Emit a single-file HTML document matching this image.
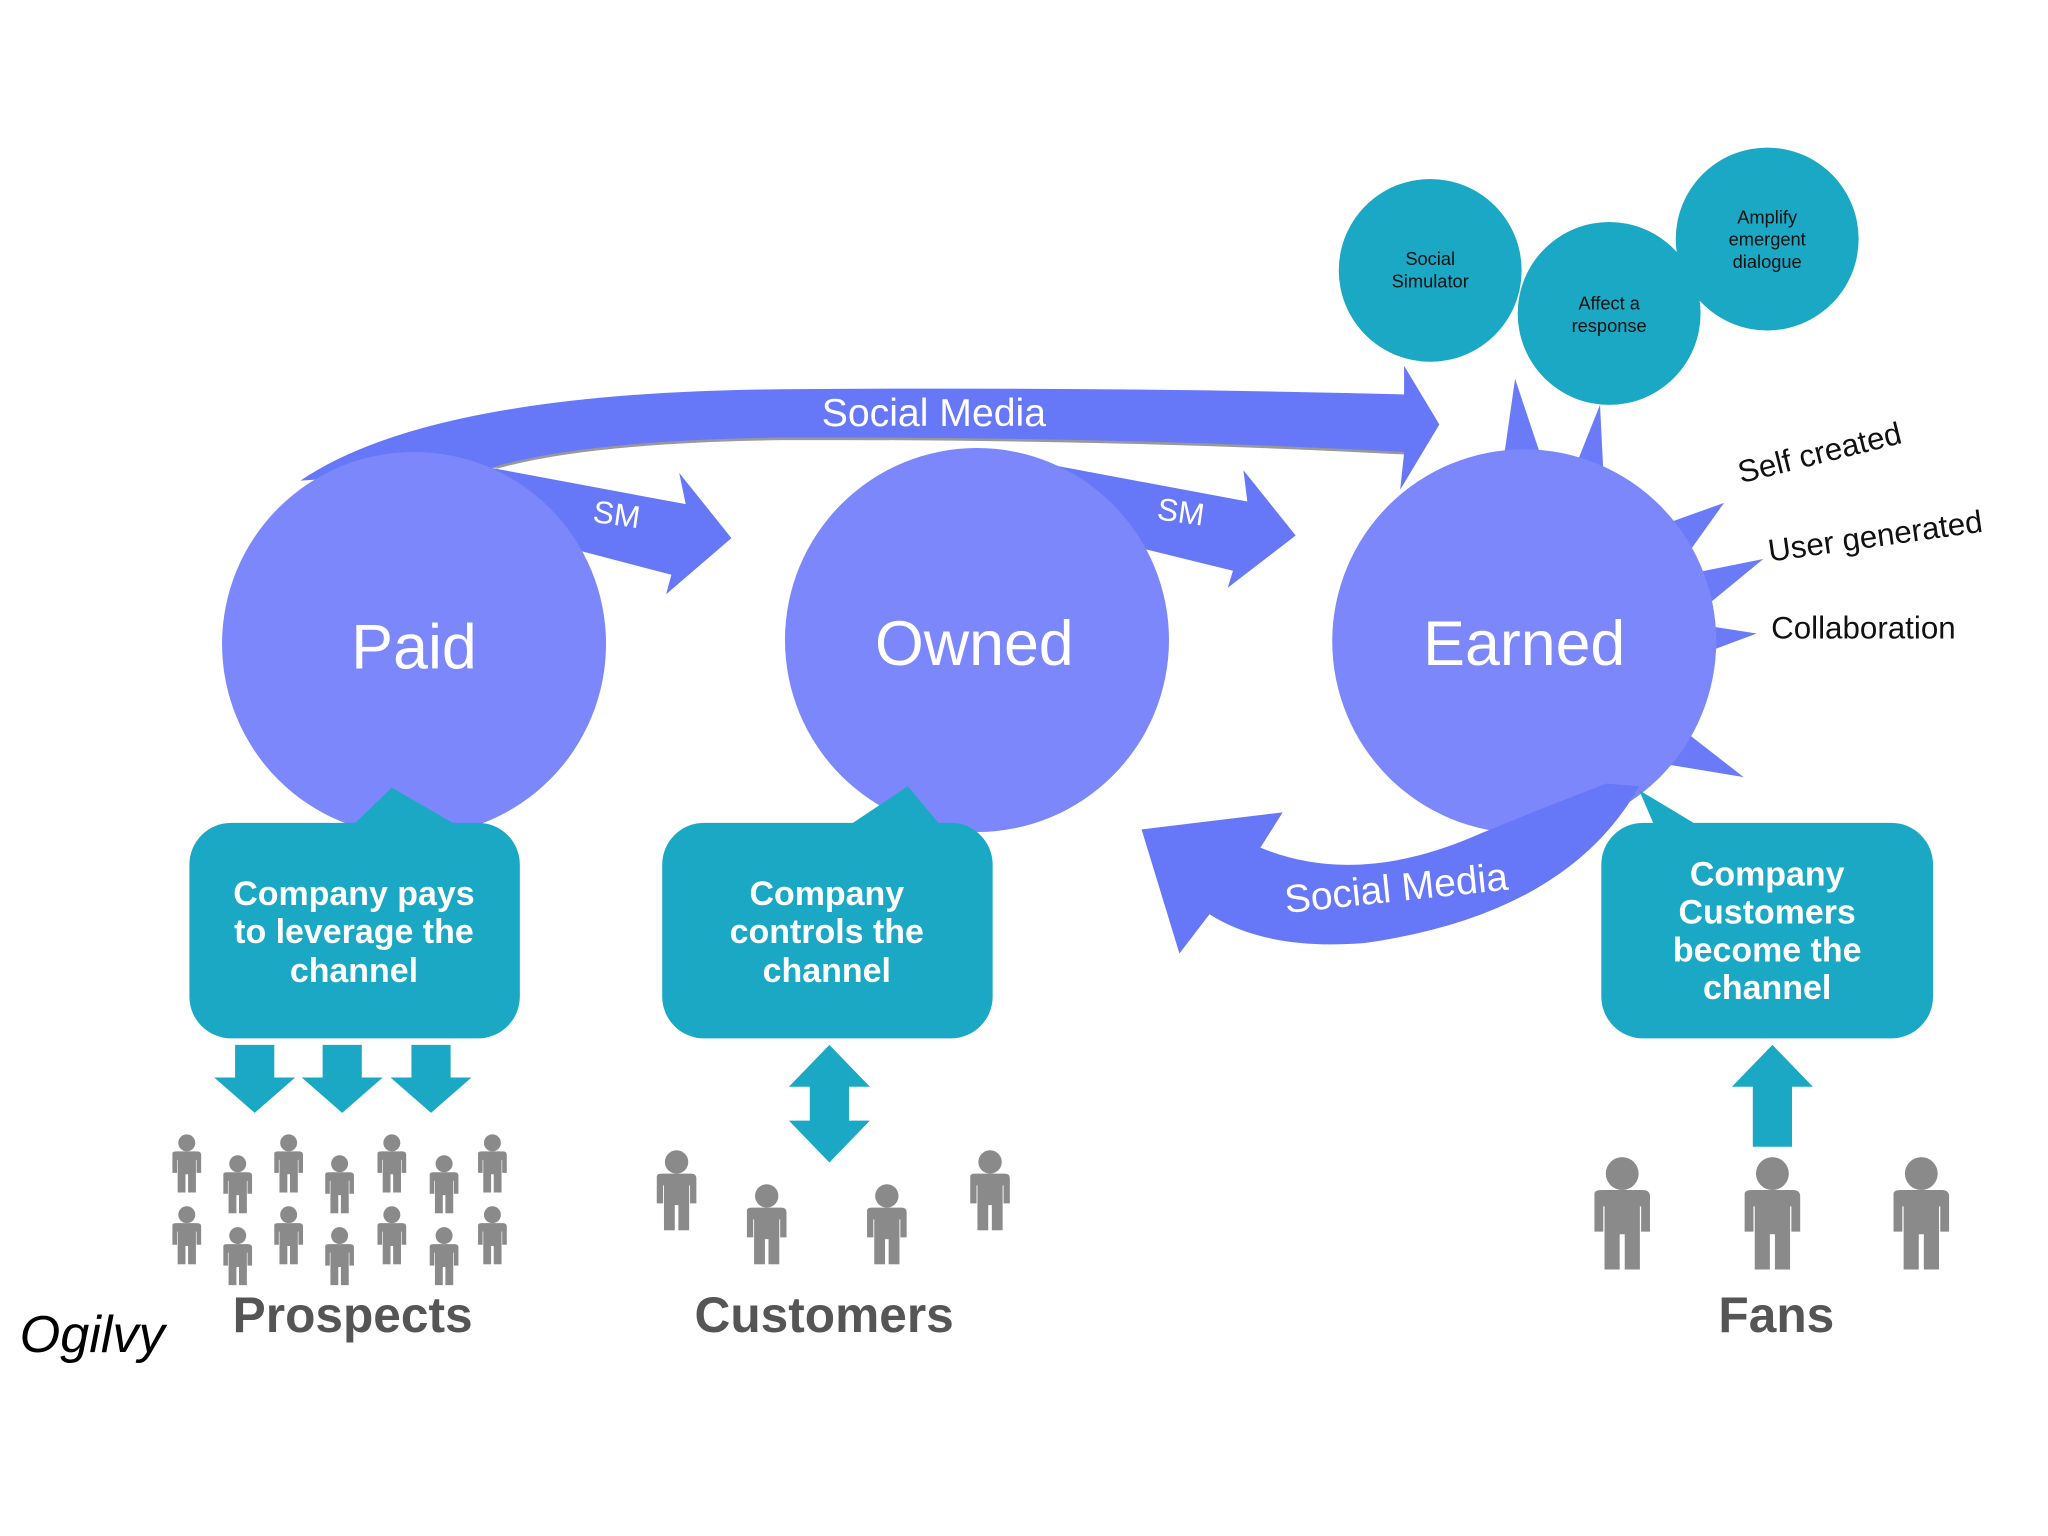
<!DOCTYPE html>
<html><head><meta charset="utf-8"><style>
html,body{margin:0;padding:0;background:#fff;}
svg{display:block;}
text{font-family:"Liberation Sans",sans-serif;}
</style></head><body>
<svg width="2048" height="1536" viewBox="0 0 1568 1176" xmlns="http://www.w3.org/2000/svg">
<defs>
<symbol id="p" viewBox="0 0 60 90">
<circle cx="30" cy="14" r="13" fill="#8a8a8a"/>
<path d="M8 30 Q8 27 14 27 L46 27 Q52 27 52 32 L52 60 L45 60 L45 40 L44 40 L44 90 L32 90 L32 62 L28 62 L28 90 L16 90 L16 40 L15 40 L15 60 L8 60 Z" fill="#8a8a8a"/>
</symbol>
</defs>
<rect width="1568" height="1176" fill="#fff"/>

<!-- top Social Media arc -->
<path d="M230 368 Q330 300 600 298 Q850 296 1075 302 L1075 280 L1102 325 L1072 375 L1075 347 Q850 335 600 336 Q450 338 380 358 Z" fill="#6677f8"/>
<path d="M380 358 Q450 338 600 336 Q850 335 1075 347" fill="none" stroke="#999" stroke-width="2"/>
<text x="715" y="326" font-size="30" fill="#fff" text-anchor="middle">Social Media</text>

<!-- SM arrows -->
<path d="M375 358 L525 386 L520 362 L560 412 L510 455 L514 440 L445 422 Z" fill="#6677f8"/>
<text x="471" y="402" font-size="24" fill="#fff" text-anchor="middle" transform="rotate(8 471 402)">SM</text>
<path d="M800 355 L955 384 L952 360 L992 410 L940 450 L944 437 L875 420 Z" fill="#6677f8"/>
<text x="903" y="400" font-size="24" fill="#fff" text-anchor="middle" transform="rotate(8 903 400)">SM</text>

<!-- Earned spikes -->
<g fill="#6b7bf8">
<polygon points="1150,360 1160,290 1180,350"/>
<polygon points="1205,360 1225,310 1228,370"/>
<polygon points="1278,400 1320,385 1295,420"/>
<polygon points="1290,440 1350,428 1305,465"/>
<polygon points="1300,478 1345,485 1305,500"/>
<polygon points="1290,560 1335,595 1275,585"/>
</g>

<!-- circles -->
<circle cx="317" cy="493" r="147" fill="#7b87fb"/>
<circle cx="748" cy="490" r="147" fill="#7b87fb"/>
<circle cx="1167" cy="491" r="147" fill="#7b87fb"/>
<text x="317" y="512" font-size="48" fill="#fff" text-anchor="middle">Paid</text>
<text x="746" y="509" font-size="48" fill="#fff" text-anchor="middle">Owned</text>
<text x="1167" y="509" font-size="48" fill="#fff" text-anchor="middle">Earned</text>

<!-- bottom Social Media arrow -->
<path d="M1255 602 Q1200 700 1045 722 Q970 728 926 700 L903 730 L874 635 L982 622 L965 649 Q1040 680 1134 638 Q1190 615 1230 600 Z" fill="#6677f8"/>
<text x="1070" y="690" font-size="30" fill="#fff" text-anchor="middle" transform="rotate(-6 1070 690)">Social Media</text>

<!-- small teal circles -->
<g fill="#1aa8c4">
<circle cx="1095" cy="207" r="70"/>
<circle cx="1232" cy="240" r="70"/>
<circle cx="1353" cy="183" r="70"/>
</g>
<g font-size="14" fill="#111" text-anchor="middle">
<text x="1095" y="203">Social</text><text x="1095" y="220">Simulator</text>
<text x="1232" y="237">Affect a</text><text x="1232" y="254">response</text>
<text x="1353" y="171">Amplify</text><text x="1353" y="188">emergent</text><text x="1353" y="205">dialogue</text>
</g>

<!-- earned labels -->
<g font-size="24" fill="#111">
<text x="1333" y="370" transform="rotate(-14 1333 370)">Self created</text>
<text x="1355" y="430" transform="rotate(-8 1355 430)">User generated</text>
<text x="1356" y="489">Collaboration</text>
</g>

<!-- callouts -->
<g fill="#1aa8c4">
<rect x="145" y="630" width="253" height="165" rx="32"/>
<polygon points="270,632 300,603 350,632"/>
<rect x="507" y="630" width="253" height="165" rx="32"/>
<polygon points="650,632 695,602 720,632"/>
<rect x="1226" y="630" width="254" height="165" rx="32"/>
<polygon points="1255,605 1300,632 1270,640"/>
</g>
<g font-size="26" font-weight="bold" fill="#fff" text-anchor="middle">
<text x="271" y="693">Company pays</text><text x="271" y="722">to leverage the</text><text x="271" y="752">channel</text>
<text x="633" y="693">Company</text><text x="633" y="722">controls the</text><text x="633" y="752">channel</text>
<text x="1353" y="678">Company</text><text x="1353" y="707">Customers</text><text x="1353" y="736">become the</text><text x="1353" y="765">channel</text>
</g>

<!-- arrows -->
<g fill="#1aa8c4">
<polygon points="180,800 210,800 210,825 226,825 195,852 164,825 180,825"/>
<polygon points="247,800 277,800 277,825 293,825 262,852 231,825 247,825"/>
<polygon points="315,800 345,800 345,825 361,825 330,852 299,825 315,825"/>
<polygon points="635,800 666,832 650,832 650,858 666,858 635,890 604,858 620,858 620,832 604,832"/>
<polygon points="1357,800 1388,832 1372,832 1372,878 1342,878 1342,832 1326,832"/>
</g>

<!-- people: prospects -->
<g>
<use href="#p" x="128" y="868" width="30" height="45"/>
<use href="#p" x="167" y="884" width="30" height="45"/>
<use href="#p" x="206" y="868" width="30" height="45"/>
<use href="#p" x="245" y="884" width="30" height="45"/>
<use href="#p" x="285" y="868" width="30" height="45"/>
<use href="#p" x="325" y="884" width="30" height="45"/>
<use href="#p" x="362" y="868" width="30" height="45"/>
<use href="#p" x="128" y="923" width="30" height="45"/>
<use href="#p" x="167" y="939" width="30" height="45"/>
<use href="#p" x="206" y="923" width="30" height="45"/>
<use href="#p" x="245" y="939" width="30" height="45"/>
<use href="#p" x="285" y="923" width="30" height="45"/>
<use href="#p" x="325" y="939" width="30" height="45"/>
<use href="#p" x="362" y="923" width="30" height="45"/>
<use href="#p" x="497" y="880" width="42" height="62"/>
<use href="#p" x="566" y="906" width="42" height="62"/>
<use href="#p" x="658" y="906" width="42" height="62"/>
<use href="#p" x="737" y="880" width="42" height="62"/>
<use href="#p" x="1212" y="885" width="60" height="87"/>
<use href="#p" x="1327" y="885" width="60" height="87"/>
<use href="#p" x="1441" y="885" width="60" height="87"/>
</g>

<g font-size="38" font-weight="bold" fill="#555" text-anchor="middle">
<text x="270" y="1020">Prospects</text>
<text x="631" y="1020">Customers</text>
<text x="1360" y="1020">Fans</text>
</g>
<text x="15" y="1035" font-size="40" font-family="Liberation Serif,serif" font-style="italic" fill="#000">Ogilvy</text>
</svg>
</body></html>
